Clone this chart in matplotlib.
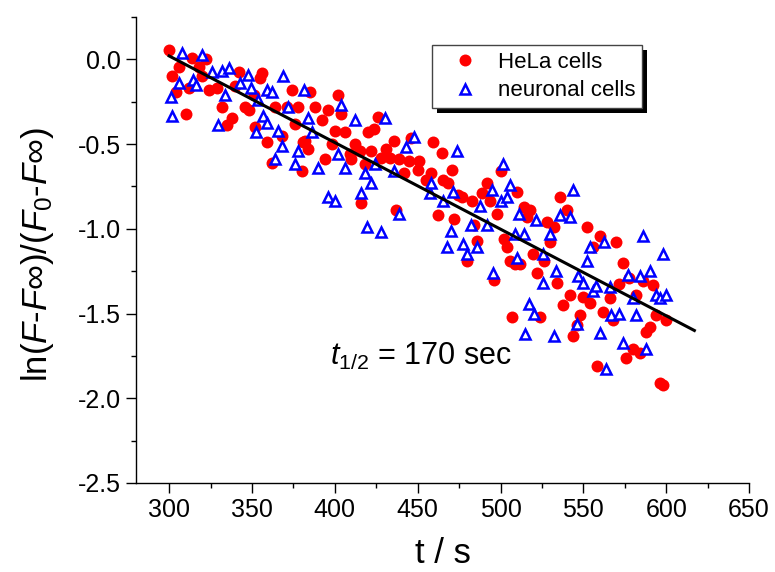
import matplotlib
matplotlib.use("Agg")
import matplotlib.pyplot as plt
from matplotlib.patches import Rectangle
from matplotlib.transforms import IdentityTransform

plt.rcParams["font.family"] = ["Liberation Sans", "DejaVu Sans"]
plt.rcParams["mathtext.fontset"] = "custom"
plt.rcParams["mathtext.rm"] = "Liberation Sans"
plt.rcParams["mathtext.it"] = "Liberation Sans:italic"

# HeLa cells (red circles)
hela_t = [300, 302, 304, 306, 310, 312, 314, 318, 320, 322, 324, 329, 332, 335,
          338, 340, 342, 346, 348, 351, 352, 355, 356, 359, 362, 364, 368, 371,
          374, 376, 378, 380, 381, 382, 384, 385, 388, 392, 394, 396, 398, 400,
          402, 404, 406, 409, 410, 412, 415, 416, 418, 420, 422, 423.6, 426, 428,
          431, 433, 436, 437, 439, 442, 445, 446, 450, 451, 455, 458, 459, 462,
          464.5, 465.5, 468.5, 470.5, 472, 474.5, 476.6, 480, 482.6, 484, 486,
          488.6, 491.7, 493.7, 496, 498, 500, 502, 504, 505.7, 507, 508.8, 509.8,
          511.8, 514.2, 515.8, 517.8, 519.8, 521.9, 524, 526, 528, 530, 532, 534,
          536, 538, 540, 542, 544, 546, 548, 550, 552, 554, 555.7, 558, 560, 562,
          566, 568, 569.7, 571.7, 574, 576, 577.8, 580, 582, 584, 585.9, 588, 590,
          592, 594, 596, 598, 600]
hela_v = [0.053, -0.10, -0.19, -0.045, -0.32, -0.17, 0.008, -0.045, -0.10, 0.002,
          -0.18, -0.17, -0.28, -0.39, -0.345, -0.16, -0.077, -0.28, -0.30, -0.21,
          -0.40, -0.11, -0.08, -0.49, -0.61, -0.28, -0.45, -0.28, -0.18, -0.38,
          -0.28, -0.66, -0.49, -0.48, -0.53, -0.195, -0.28, -0.355, -0.59, -0.30,
          -0.50, -0.42, -0.21, -0.32, -0.43, -0.56, -0.59, -0.50, -0.54, -0.845,
          -0.616, -0.43, -0.54, -0.41, -0.34, -0.58, -0.53, -0.58, -0.48, -0.89,
          -0.59, -0.67, -0.60, -0.466, -0.65, -0.60, -0.71, -0.67, -0.49, -0.92,
          -0.55, -0.71, -0.73, -0.65, -0.94, -0.80, -0.81, -1.19, -0.835, -0.976,
          -1.07, -0.79, -0.73, -0.835, -1.30, -0.91, -0.66, -1.06, -1.11, -1.19,
          -1.52, -1.21, -0.78, -1.21, -0.87, -0.93, -0.89, -1.15, -1.26, -1.52,
          -1.19, -0.96, -1.08, -0.99, -1.32, -0.81, -1.45, -0.89, -1.39, -1.63,
          -1.57, -1.51, -1.40, -0.99, -1.44, -1.11, -1.81, -1.04, -1.49, -1.41,
          -1.54, -1.08, -1.325, -1.20, -1.76, -1.29, -1.71, -1.39, -1.73, -1.31,
          -1.61, -1.58, -1.33, -1.51, -1.91, -1.92, -1.54]

# neuronal cells (blue open triangles)
neuro_t = [301, 302, 306, 308, 314.5, 316.5, 320, 325.6, 329.6, 331.6, 333.6, 336,
           342.7, 347.7, 349.7, 352.4, 353.7, 356.8, 358.8, 359, 361.8, 363.8,
           365.8, 367.9, 368.8, 371.9, 375.9, 377.9, 381.3, 384, 386, 390, 396,
           400, 402, 404, 406, 412, 416, 418, 419.6, 422, 424, 427.6, 430, 436,
           439, 443, 448, 457.4, 458, 465.5, 468, 470, 471.5, 473.5, 477.5, 479.6,
           482, 485.6, 487.6, 491.7, 495, 495.7, 500, 501.7, 504, 505.7, 508.8,
           509.8, 511.4, 514.2, 515, 517, 520, 521.4, 525.8, 525.8, 530, 532,
           533.5, 536, 542, 544, 546, 547, 549.6, 552, 554, 556, 557.7, 560, 562.5,
           563.7, 566, 566.5, 571.7, 574, 577, 580, 581.8, 584, 586, 588, 590,
           594, 596, 598, 600]
neuro_v = [-0.22, -0.335, -0.14, 0.04, -0.12, -0.15, 0.027, -0.077, -0.39, -0.07,
           -0.21, -0.05, -0.14, -0.09, -0.17, -0.43, -0.24, -0.335, -0.375, -0.18,
           -0.19, -0.59, -0.42, -0.51, -0.096, -0.28, -0.62, -0.54, -0.18, -0.345,
           -0.43, -0.64, -0.815, -0.835, -0.56, -0.27, -0.64, -0.36, -0.79, -0.67,
           -0.99, -0.73, -0.62, -1.016, -0.345, -0.66, -0.91, -0.52, -0.46, -0.79,
           -0.73, -0.835, -1.105, -1.01, -0.78, -0.54, -1.09, -1.15, -0.976, -1.11,
           -0.865, -0.98, -0.77, -1.26, -0.835, -0.62, -0.815, -0.74, -1.03, -1.17,
           -0.91, -1.03, -1.62, -1.445, -1.50, -0.95, -1.15, -1.32, -1.03, -1.63,
           -1.25, -0.92, -0.93, -0.77, -1.56, -1.28, -1.32, -1.19, -1.11, -1.365,
           -1.335, -1.615, -1.075, -1.83, -1.345, -1.51, -1.50, -1.675, -1.27,
           -1.41, -1.51, -1.28, -1.04, -1.71, -1.25, -1.39, -1.41, -1.15, -1.39]

# linear fit
fit_t = [300, 617]
fit_v = [0.02, -1.60]

fig = plt.figure(figsize=(7.75, 5.72), dpi=100)
ax = fig.add_axes([0.1755, 0.1556, 0.791, 0.8147])

ax.plot(hela_t, hela_v, "o", color="#ff0000", ms=8.6, mec="#ff0000", mew=0,
        label="HeLa cells", zorder=2)
ax.plot(neuro_t, neuro_v, "^", color="#0000ff", ms=6.8, mfc="white", mec="#0000ff",
        mew=1.8, label="neuronal cells", zorder=3)
ax.plot(fit_t, fit_v, "-", color="black", lw=2.2, zorder=4)

ax.set_xlim(280, 650)
ax.set_ylim(-2.5, 0.25)
ax.set_xticks([300, 350, 400, 450, 500, 550, 600, 650])
ax.set_xticks([325, 375, 425, 475, 525, 575, 625], minor=True)
ax.set_yticks([0.0, -0.5, -1.0, -1.5, -2.0, -2.5])
ax.set_yticks([0.25, -0.25, -0.75, -1.25, -1.75, -2.25], minor=True)
ax.set_yticklabels(["0.0", "-0.5", "-1.0", "-1.5", "-2.0", "-2.5"])

for side in ["top", "right"]:
    ax.spines[side].set_visible(False)
for side in ["left", "bottom"]:
    ax.spines[side].set_linewidth(1.0)

ax.tick_params(which="major", direction="out", length=7, width=1.0,
               labelsize=18, pad=4)
ax.tick_params(which="minor", direction="out", length=3.5, width=1.0)

ax.set_xlabel("t / s", fontsize=25)
ax.xaxis.set_label_coords(0.5, -0.115)
ax.set_ylabel(r"ln($\mathit{F}$-$\mathit{F}$∞)/($\mathit{F}_{\mathrm{0}}$-$\mathit{F}$∞)",
              fontsize=25)
ax.yaxis.set_label_coords(-0.13, 0.49)

ax.text(397, -1.806, r"$\mathit{t}_{\mathrm{1/2}}$ = 170 sec", fontsize=22,
        ha="left", va="baseline")

leg = ax.legend(loc="upper left", bbox_to_anchor=(0.483, 0.94), borderaxespad=0,
                fontsize=16, frameon=True, fancybox=False, shadow=False,
                framealpha=1.0, facecolor="white",
                handlelength=2.35, handletextpad=0.3, labelspacing=0.35,
                borderpad=0.3, numpoints=1)
leg.get_frame().set_edgecolor("#444444")
leg.get_frame().set_linewidth(1.0)
leg.set_zorder(10)

# solid black drop shadow offset down-right, as in the original figure
fig.canvas.draw()
bb = leg.get_window_extent()
shadow = Rectangle((bb.x0 + 5, bb.y0 - 5), bb.width, bb.height,
                   transform=IdentityTransform(), facecolor="black",
                   edgecolor="none", zorder=9, clip_on=False)
ax.add_artist(shadow)

fig.savefig("out.png", dpi=100)
